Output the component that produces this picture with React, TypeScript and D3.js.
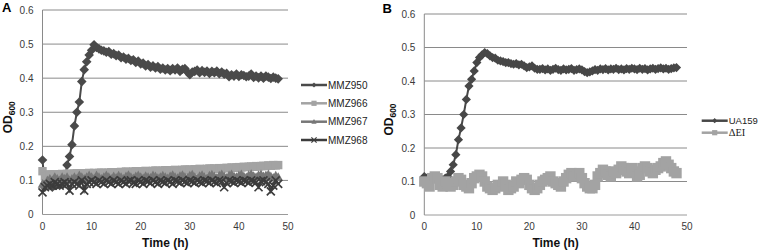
import React from "react";
import * as d3 from "d3";

// ---- data ----
const timeH = [
  0, 0.5, 1, 1.5, 2, 2.5, 3, 3.5, 4, 4.5,
  5, 5.5, 6, 6.5, 7, 7.5, 8, 8.5, 9, 9.5,
  10, 10.5, 11, 11.5, 12, 12.5, 13, 13.5, 14, 14.5,
  15, 15.5, 16, 16.5, 17, 17.5, 18, 18.5, 19, 19.5,
  20, 20.5, 21, 21.5, 22, 22.5, 23, 23.5, 24, 24.5,
  25, 25.5, 26, 26.5, 27, 27.5, 28, 28.5, 29, 29.5,
  30, 30.5, 31, 31.5, 32, 32.5, 33, 33.5, 34, 34.5,
  35, 35.5, 36, 36.5, 37, 37.5, 38, 38.5, 39, 39.5,
  40, 40.5, 41, 41.5, 42, 42.5, 43, 43.5, 44, 44.5,
  45, 45.5, 46, 46.5, 47, 47.5, 48,
];

const mmz950 = [
  0.16, 0.08, 0.085, 0.09, 0.08, 0.085, 0.09, 0.085, 0.09, 0.095,
  0.145, 0.17, 0.205, 0.26, 0.3, 0.33, 0.39, 0.425, 0.448, 0.468,
  0.482, 0.498, 0.49, 0.486, 0.482, 0.48, 0.476, 0.478, 0.47, 0.472,
  0.466, 0.468, 0.46, 0.462, 0.456, 0.458, 0.452, 0.454, 0.446, 0.45,
  0.442, 0.444, 0.436, 0.44, 0.432, 0.436, 0.43, 0.434, 0.426, 0.43,
  0.424, 0.428, 0.422, 0.428, 0.424, 0.43, 0.42, 0.426, 0.428, 0.418,
  0.41, 0.418, 0.42, 0.424, 0.416, 0.422, 0.417, 0.421, 0.414, 0.42,
  0.416, 0.421, 0.413, 0.418, 0.412, 0.414, 0.404, 0.41, 0.406, 0.412,
  0.405, 0.41, 0.408, 0.404, 0.406, 0.412, 0.402, 0.406, 0.401, 0.406,
  0.4, 0.406, 0.403, 0.399, 0.403, 0.4, 0.398,
];

const mmz966 = [
  0.127, 0.112, 0.115, 0.118, 0.117, 0.118, 0.116, 0.118, 0.119, 0.118,
  0.119, 0.12, 0.118, 0.12, 0.121, 0.12, 0.119, 0.121, 0.12, 0.122,
  0.121, 0.122, 0.12, 0.122, 0.123, 0.122, 0.121, 0.123, 0.124, 0.123,
  0.124, 0.123, 0.125, 0.124, 0.126, 0.125, 0.124, 0.126, 0.127, 0.126,
  0.127, 0.126, 0.128, 0.127, 0.126, 0.128, 0.129, 0.128, 0.127, 0.129,
  0.13, 0.129, 0.128, 0.13, 0.131, 0.13, 0.129, 0.131, 0.132, 0.131,
  0.132, 0.131, 0.133, 0.132, 0.134, 0.133, 0.132, 0.134, 0.135, 0.134,
  0.135, 0.134, 0.136, 0.135, 0.136, 0.137, 0.136, 0.138, 0.137, 0.138,
  0.139, 0.138, 0.14, 0.139, 0.14, 0.141, 0.14, 0.142, 0.141, 0.142,
  0.143, 0.142, 0.144, 0.143, 0.145, 0.144, 0.145,
];

const mmz967 = [
  0.09, 0.085, 0.1, 0.105, 0.1, 0.11, 0.105, 0.1, 0.11, 0.105,
  0.11, 0.1, 0.105, 0.11, 0.105, 0.115, 0.11, 0.105, 0.11, 0.115,
  0.11, 0.105, 0.115, 0.11, 0.105, 0.11, 0.115, 0.11, 0.105, 0.112,
  0.108, 0.114, 0.11, 0.105, 0.112, 0.116, 0.11, 0.106, 0.112, 0.115,
  0.11, 0.106, 0.113, 0.11, 0.108, 0.115, 0.112, 0.107, 0.11, 0.114,
  0.11, 0.106, 0.112, 0.116, 0.11, 0.107, 0.113, 0.116, 0.11, 0.108,
  0.114, 0.117, 0.11, 0.107, 0.113, 0.116, 0.11, 0.108, 0.114, 0.117,
  0.112, 0.108, 0.114, 0.118, 0.112, 0.108, 0.115, 0.118, 0.112, 0.11,
  0.115, 0.118, 0.112, 0.109, 0.116, 0.119, 0.113, 0.11, 0.116, 0.118,
  0.112, 0.115, 0.118, 0.112, 0.108, 0.114, 0.11,
];

const mmz968 = [
  0.065, 0.08, 0.085, 0.09, 0.085, 0.095, 0.09, 0.085, 0.09, 0.095,
  0.09, 0.07, 0.09, 0.095, 0.09, 0.085, 0.1, 0.07, 0.09, 0.095,
  0.1, 0.095, 0.09, 0.1, 0.095, 0.09, 0.1, 0.095, 0.09, 0.1,
  0.095, 0.09, 0.1, 0.095, 0.09, 0.098, 0.1, 0.093, 0.09, 0.1,
  0.096, 0.09, 0.1, 0.097, 0.092, 0.1, 0.095, 0.09, 0.1, 0.096,
  0.092, 0.1, 0.096, 0.09, 0.1, 0.097, 0.093, 0.1, 0.096, 0.092,
  0.1, 0.097, 0.093, 0.1, 0.096, 0.092, 0.1, 0.098, 0.093, 0.1,
  0.096, 0.092, 0.1, 0.097, 0.08, 0.092, 0.1, 0.097, 0.093, 0.1,
  0.097, 0.093, 0.1, 0.098, 0.093, 0.1, 0.097, 0.094, 0.08, 0.098,
  0.1, 0.095, 0.09, 0.068, 0.085, 0.1, 0.09,
];

const ua159 = [
  0.115, 0.11, 0.105, 0.105, 0.11, 0.1, 0.1, 0.105, 0.11, 0.115,
  0.13, 0.15, 0.18, 0.225, 0.26, 0.3, 0.345, 0.385, 0.405, 0.43,
  0.455, 0.47, 0.478, 0.485, 0.482, 0.475, 0.47, 0.468, 0.462, 0.46,
  0.458, 0.455, 0.455, 0.452, 0.45, 0.452, 0.448, 0.45, 0.445, 0.44,
  0.442, 0.445, 0.438, 0.435, 0.435, 0.437, 0.433, 0.436, 0.432, 0.435,
  0.438, 0.434, 0.432, 0.436, 0.433, 0.435, 0.437, 0.432, 0.434, 0.436,
  0.433, 0.428, 0.425, 0.427, 0.43, 0.434, 0.432, 0.436, 0.434, 0.437,
  0.433, 0.436, 0.435, 0.438, 0.434, 0.436, 0.433, 0.437, 0.435, 0.438,
  0.436, 0.434, 0.438, 0.435, 0.437, 0.433, 0.436, 0.438, 0.435, 0.437,
  0.439, 0.436, 0.438, 0.435, 0.437, 0.439, 0.44,
];

const deltaEI = [
  0.1, 0.095, 0.085, 0.11, 0.115, 0.11, 0.09, 0.085, 0.1, 0.095,
  0.085, 0.09, 0.1, 0.11, 0.105, 0.09, 0.085, 0.08, 0.095, 0.11,
  0.115, 0.12, 0.115, 0.1, 0.085, 0.08, 0.075, 0.08, 0.09, 0.085,
  0.1, 0.09, 0.075, 0.08, 0.085, 0.1, 0.095, 0.105, 0.11, 0.105,
  0.09, 0.08, 0.075, 0.08, 0.09, 0.1, 0.105, 0.11, 0.115, 0.1,
  0.095, 0.09, 0.085, 0.1, 0.11, 0.12, 0.125, 0.115, 0.12, 0.125,
  0.11, 0.095, 0.085, 0.08, 0.08, 0.09, 0.115, 0.125, 0.135, 0.13,
  0.12, 0.115, 0.13, 0.125, 0.135, 0.145, 0.14, 0.13, 0.125, 0.14,
  0.13, 0.115, 0.12, 0.14, 0.145, 0.14, 0.13, 0.125, 0.135, 0.14,
  0.145, 0.155, 0.16, 0.15, 0.14, 0.13, 0.125,
];

const yTicks = [0, 0.1, 0.2, 0.3, 0.4, 0.5, 0.6];
const xTicks = [0, 10, 20, 30, 40, 50];

type Shape = "diamond" | "square" | "triangle" | "x";

interface Series {
  name: string;
  values: number[];
  color: string;
  shape: Shape;
  r: number;
  serif?: boolean;
}

const seriesA: Series[] = [
  { name: "MMZ950", values: mmz950, color: "#4a4a4a", shape: "diamond", r: 4.8 },
  { name: "MMZ966", values: mmz966, color: "#a3a3a3", shape: "square", r: 4.2 },
  { name: "MMZ967", values: mmz967, color: "#777777", shape: "triangle", r: 4.8 },
  { name: "MMZ968", values: mmz968, color: "#3c3c3c", shape: "x", r: 4.0 },
];

const seriesB: Series[] = [
  { name: "UA159", values: ua159, color: "#474747", shape: "diamond", r: 4.6 },
  { name: "\u0394EI", values: deltaEI, color: "#a3a3a3", shape: "square", r: 5.2, serif: true },
];

function markerPath(shape: Shape, r: number): string {
  const p = d3.path();
  if (shape === "diamond") {
    p.moveTo(0, -r); p.lineTo(r, 0); p.lineTo(0, r); p.lineTo(-r, 0); p.closePath();
  } else if (shape === "square") {
    p.rect(-r, -r, 2 * r, 2 * r);
  } else if (shape === "triangle") {
    p.moveTo(0, -r); p.lineTo(r, r * 0.8); p.lineTo(-r, r * 0.8); p.closePath();
  } else {
    p.moveTo(-r, -r); p.lineTo(r, r); p.moveTo(r, -r); p.lineTo(-r, r);
  }
  return p.toString();
}

const FONT = "Arial, 'Liberation Sans', Helvetica, sans-serif";

interface PanelProps {
  letter: string;
  letterX: number;
  letterY: number;
  x0: number;
  x1: number;
  yTop: number;
  yBottom: number;
  series: Series[];
  odX: number;
  legendX: number;
  legendY: number[];
  legendFont: number;
}

function Panel(props: PanelProps) {
  const { letter, letterX, letterY, x0, x1, yTop, yBottom, series, odX, legendX, legendY, legendFont } = props;
  const x = d3.scaleLinear().domain([0, 50]).range([x0, x1]);
  const y = d3.scaleLinear().domain([0, 0.6]).range([yBottom, yTop]);
  const line = d3
    .line<number>()
    .x((_, i) => x(timeH[i]))
    .y((d) => y(d));
  const midY = (yTop + yBottom) / 2;
  return (
    <g>
      <text x={letterX} y={letterY} fontFamily={FONT} fontWeight="bold" fontSize={13} fill="#000">
        {letter}
      </text>
      {yTicks.map((t) => (
        <line key={"g" + t} x1={x0} x2={x1} y1={y(t)} y2={y(t)} stroke={t === 0 ? "#9a9a9a" : "#8a8a8a"} strokeWidth={1} />
      ))}
      <line x1={x0} x2={x0} y1={yTop} y2={yBottom} stroke="#8a8a8a" strokeWidth={1} />
      {yTicks.map((t) => (
        <text key={"yl" + t} x={x0 - 9} y={y(t)} dy="0.35em" textAnchor="end" fontFamily={FONT} fontSize={10} fill="#3a3a3a">
          {t === 0 ? "0" : d3.format(".1f")(t)}
        </text>
      ))}
      {xTicks.map((t) => (
        <text key={"xl" + t} x={x(t)} y={yBottom + 15} textAnchor="middle" fontFamily={FONT} fontSize={10} fill="#3a3a3a">
          {t}
        </text>
      ))}
      <text x={(x0 + x1) / 2} y={yBottom + 32} textAnchor="middle" fontFamily={FONT} fontWeight="bold" fontSize={12} fill="#111">
        Time (h)
      </text>
      <text transform={`translate(${odX},${midY + 5}) rotate(-90)`} textAnchor="middle" fontFamily={FONT} fontWeight="bold" fontSize={12} fill="#111">
        OD<tspan fontSize={8.5} dy={3}>600</tspan>
      </text>
      {series.map((s) => (
        <g key={s.name}>
          <path d={line(s.values) || ""} fill="none" stroke={s.color} strokeWidth={2} />
          {s.values.map((v, i) => (
            <path
              key={i}
              d={markerPath(s.shape, s.r)}
              transform={`translate(${x(timeH[i])},${y(v)})`}
              fill={s.shape === "x" ? "none" : s.color}
              stroke={s.color}
              strokeWidth={s.shape === "x" ? 1.7 : 0}
            />
          ))}
        </g>
      ))}
      {series.map((s, k) => (
        <g key={"lg" + s.name} transform={`translate(${legendX},${legendY[k]})`}>
          <line x1={0} x2={26} y1={0} y2={0} stroke={s.color} strokeWidth={2.5} />
          <path
            d={markerPath(s.shape, 2.6)}
            transform="translate(13,0)"
            fill={s.shape === "x" ? "none" : s.color}
            stroke={s.color}
            strokeWidth={s.shape === "x" ? 1.2 : 0}
          />
          <text
            x={27}
            y={0}
            dy="0.35em"
            fontFamily={s.serif ? "'Liberation Serif', 'Times New Roman', serif" : FONT}
            fontSize={s.serif ? 10.5 : legendFont}
            fill="#222"
          >
            {s.name}
          </text>
        </g>
      ))}
    </g>
  );
}

export default function App() {
  return (
    <svg
      width={760}
      height={251}
      viewBox="0 0 760 251"
      style={{ position: "absolute", left: 0, top: 0, display: "block", background: "#fff" }}
    >
      <rect x={0} y={0} width={760} height={251} fill="#fff" />
      <Panel
        letter="A"
        letterX={2}
        letterY={12}
        x0={42.5}
        x1={288}
        yTop={10}
        yBottom={214.5}
        series={seriesA}
        odX={12}
        legendX={301}
        legendY={[85, 103.3, 121.7, 140]}
        legendFont={10}
      />
      <Panel
        letter="B"
        letterX={382.5}
        letterY={13}
        x0={424.3}
        x1={687}
        yTop={14}
        yBottom={215}
        series={seriesB}
        odX={393}
        legendX={701.7}
        legendY={[120.7, 132.7]}
        legendFont={9.5}
      />
    </svg>
  );
}
